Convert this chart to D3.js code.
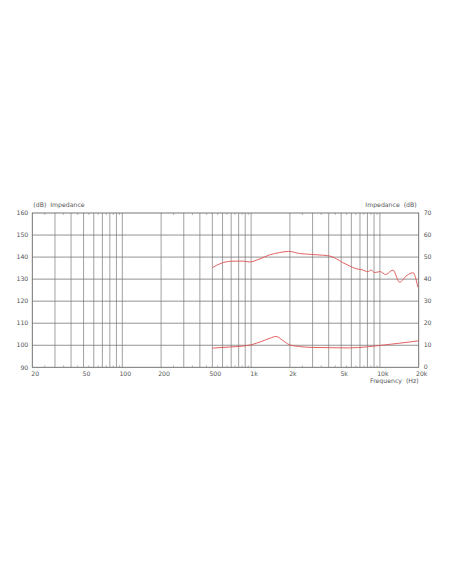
<!DOCTYPE html>
<html>
<head>
<meta charset="utf-8">
<script src="https://cdn.jsdelivr.net/npm/d3@7"></script>
<style>
  body { margin: 0; background: #fff; }
  text { font-family: "DejaVu Sans", sans-serif; fill: #555; }
</style>
</head>
<body>
<div id="chart"></div>
<script>
// frequency response (left axis, dB) and impedance (right axis)
var splFreq = [500, 585, 700, 850, 970, 1150, 1390, 1650, 1960, 2380, 2800, 3300, 4060, 4600, 5150, 5800, 6550, 7300, 8060, 8550, 9080, 10060, 11070, 12620, 14220, 16200, 18040, 19730];
var splVals = [135.2, 137.2, 138.1, 138.2, 137.8, 139.0, 141.0, 142.0, 142.6, 141.6, 141.3, 141.0, 140.5, 139.2, 137.5, 136.0, 134.7, 134.2, 133.4, 134.1, 133.0, 133.4, 132.1, 134.1, 128.6, 131.7, 132.9, 126.3];

var impFreq = [500, 680, 850, 1000, 1200, 1400, 1565, 1750, 1990, 2380, 3010, 4000, 5800, 8000, 10000, 14000, 20000];
var impVals = [8.7, 9.2, 9.6, 10.2, 11.7, 13.2, 14.0, 12.3, 10.2, 9.4, 9.0, 8.9, 8.8, 9.3, 9.9, 10.9, 12.0];

var leftTicks = [90, 100, 110, 120, 130, 140, 150, 160];
var rightTicks = [0, 10, 20, 30, 40, 50, 60, 70];
var freqLabels = [[20, "20"], [50, "50"], [100, "100"], [200, "200"], [500, "500"], [1000, "1k"], [2000, "2k"], [5000, "5k"], [10000, "10k"], [20000, "20k"]];

var W = 452, H = 584;
var L = 32.3, R = 418.7, T = 213, B = 367.3;

var svg = d3.select("#chart").append("svg")
  .attr("width", W)
  .attr("height", H);

var x = d3.scaleLog().domain([20, 20000]).range([L, R]);
var yL = d3.scaleLinear().domain([90, 160]).range([B, T]);
var yR = d3.scaleLinear().domain([0, 70]).range([B, T]);

// vertical grid: 20..90, 100..900, 1k..9k, 10k..20k
var gridF = [];
[10, 100, 1000, 10000].forEach(function (d) {
  for (var k = 1; k < 10; k++) {
    var f = d * k;
    if (f > 20 && f < 20000) gridF.push(f);
  }
});
svg.selectAll("line.vg").data(gridF).enter().append("line")
  .attr("class", "vg")
  .attr("x1", function (d) { return x(d); })
  .attr("x2", function (d) { return x(d); })
  .attr("y1", T).attr("y2", B)
  .style("stroke", "#8a8a8a")
  .style("stroke-width", 0.8);

// minor ticks at the half steps
var minorF = [];
[10, 100, 1000, 10000].forEach(function (d) {
  for (var k = 2; k < 10; k++) {
    var f = d * (k + 0.5);
    if (f > 20 && f < 20000) minorF.push(f);
  }
});
minorF.forEach(function (f) {
  svg.append("line").attr("x1", x(f)).attr("x2", x(f)).attr("y1", T).attr("y2", T + 2)
    .style("stroke", "#aaa").style("stroke-width", 0.8);
  svg.append("line").attr("x1", x(f)).attr("x2", x(f)).attr("y1", B - 2).attr("y2", B)
    .style("stroke", "#aaa").style("stroke-width", 0.8);
});

svg.selectAll("line.hg").data(leftTicks.slice(1, -1)).enter().append("line")
  .attr("class", "hg")
  .attr("x1", L).attr("x2", R)
  .attr("y1", function (d) { return yL(d); })
  .attr("y2", function (d) { return yL(d); })
  .style("stroke", "#777")
  .style("stroke-width", 0.8);

svg.append("rect")
  .attr("x", L).attr("y", T)
  .attr("width", R - L).attr("height", B - T)
  .style("fill", "none")
  .style("stroke", "#666")
  .style("stroke-width", 0.9);

// axis labels
svg.selectAll("text.yl").data(leftTicks).enter().append("text")
  .attr("class", "yl")
  .attr("x", L - 4)
  .attr("y", function (d) { return yL(d) + 2.2; })
  .attr("text-anchor", "end")
  .style("font-size", "6.2px")
  .style("fill", "#555")
  .text(function (d) { return d; });

svg.selectAll("text.yr").data(rightTicks).enter().append("text")
  .attr("class", "yr")
  .attr("x", R + 5)
  .attr("y", function (d) { return yR(d) + (d == 0 ? 1.2 : 2.2); })
  .attr("text-anchor", "start")
  .style("font-size", "6.2px")
  .style("fill", "#555")
  .text(function (d) { return d; });

svg.selectAll("text.xl").data(freqLabels).enter().append("text")
  .attr("class", "xl")
  .attr("x", function (d) { return x(d[0]) + 3; })
  .attr("y", B + 9)
  .attr("text-anchor", "middle")
  .style("font-size", "6.2px")
  .style("fill", "#555")
  .text(function (d) { return d[1]; });

svg.append("text")
  .attr("x", L + 1).attr("y", T - 6)
  .style("font-size", "6.2px")
  .style("fill", "#555")
  .style("white-space", "pre")
  .text("(dB)  Impedance");

svg.append("text")
  .attr("x", R - 2).attr("y", T - 6)
  .attr("text-anchor", "end")
  .style("font-size", "6.2px")
  .style("fill", "#555")
  .style("white-space", "pre")
  .text("Impedance  (dB)");

svg.append("text")
  .attr("x", R).attr("y", B + 15.5)
  .attr("text-anchor", "end")
  .style("font-size", "6.2px")
  .style("fill", "#555")
  .style("white-space", "pre")
  .text("Frequency  (Hz)");

// curves
var splLine = d3.line()
  .x(function (d, i) { return x(splFreq[i]); })
  .y(function (d) { return yL(d); })
  .curve(d3.curveMonotoneX);

var impLine = d3.line()
  .x(function (d, i) { return x(impFreq[i]); })
  .y(function (d) { return yR(d); })
  .curve(d3.curveMonotoneX);

svg.append("path")
  .attr("d", splLine(splVals))
  .style("fill", "none")
  .style("stroke", "#e05050")
  .style("stroke-width", 0.9);

svg.append("path")
  .attr("d", impLine(impVals))
  .style("fill", "none")
  .style("stroke", "#e05050")
  .style("stroke-width", 0.9);
</script>
</body>
</html>
